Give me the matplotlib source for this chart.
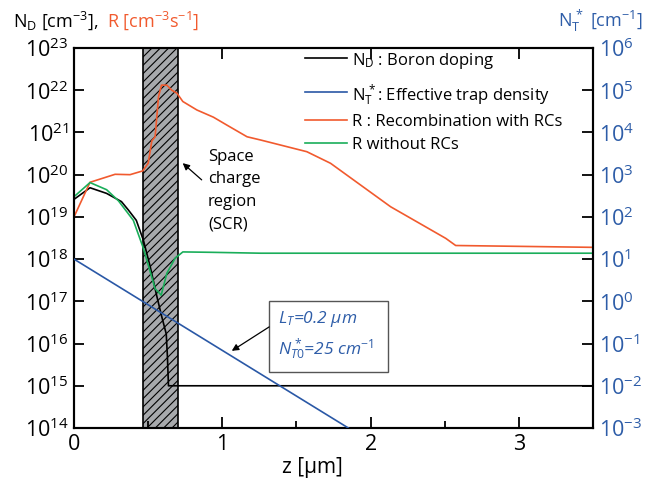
import matplotlib
matplotlib.use("Agg")
import matplotlib.pyplot as plt
from matplotlib.ticker import LogLocator, NullLocator, MultipleLocator, FixedLocator
from matplotlib.lines import Line2D

plt.rcParams['font.family'] = ['Open Sans', 'DejaVu Sans']
plt.rcParams['mathtext.fontset'] = 'custom'
plt.rcParams['mathtext.rm'] = 'Open Sans'
plt.rcParams['mathtext.it'] = 'Open Sans:italic'
plt.rcParams['mathtext.bf'] = 'Open Sans:bold'
plt.rcParams['hatch.linewidth'] = 0.8

# ---------------- data ----------------
# Boron doping N_D [cm^-3]
z_nd = [0.0, 0.108, 0.22, 0.32, 0.367, 0.42, 0.468, 0.514, 0.559, 0.592, 0.622, 0.630, 0.637, 3.5]
nd = [2.6e19, 4.9e19, 3.6e19, 2.3e19, 1.45e19, 8.3e18, 2.8e18, 6.6e17, 1.3e17, 4.3e16,
      1.7e16, 4.9e15, 1.0e15, 1.0e15]

# Recombination without RCs [cm^-3 s^-1]
z_g = [0.0, 0.108, 0.22, 0.30, 0.40, 0.468, 0.547, 0.588, 0.626, 0.682, 0.734, 0.92, 1.26, 3.5]
r_norc = [3.0e19, 6.5e19, 4.4e19, 2.4e19, 8.3e18, 1.8e18, 2.0e17, 1.4e17, 4.6e17, 1.05e18,
          1.48e18, 1.45e18, 1.38e18, 1.38e18]

# Recombination with RCs [cm^-3 s^-1]
z_r = [0.0, 0.108, 0.277, 0.378, 0.464, 0.50, 0.525, 0.547, 0.57, 0.59, 0.626, 0.66, 0.694,
       0.734, 0.829, 0.94, 1.03, 1.167, 1.26, 1.57, 1.73, 2.135, 2.507, 2.574, 3.5]
r_rc = [1.0e19, 6.6e19, 1.02e20, 1.0e20, 1.23e20, 1.86e20, 6.3e20, 7.9e20, 7.1e21, 1.32e22,
        1.32e22, 1.0e22, 8.5e21, 5.4e21, 3.4e21, 2.3e21, 1.5e21, 7.9e20, 6.6e20, 3.5e20,
        1.86e20, 1.74e19, 3.1e18, 2.1e18, 1.9e18]

# Effective trap density N_T* [cm^-1]
z_nt = [0.0, 1.85]
nt = [10.0, 1.0e-3]

# Space charge region
scr = [0.468, 0.698]

x_ticks = [0, 1, 2, 3]

legend_labels = [r'N$_\mathrm{D}$ : Boron doping',
                 r'N$_\mathrm{T}^{\,*}$: Effective trap density',
                 'R : Recombination with RCs',
                 'R without RCs']

# ---------------- style ----------------
c_orange = '#f15a2e'
c_green = '#1aae5a'
c_blue = '#2a58a6'
c_blue_txt = '#2e5da8'

fig = plt.figure(figsize=(6.61, 4.84), dpi=100)
ax = fig.add_axes([74/661, 1-428/484, (593-74)/661, (428-48)/484])
ax2 = ax.twinx()

ax.axvspan(scr[0], scr[1], facecolor='#a7a9ac', edgecolor='black', hatch='////', lw=1.2, zorder=1)

l_nd, = ax.plot(z_nd, nd, color='black', lw=1.2, zorder=3)
l_r, = ax.plot(z_r, r_rc, color=c_orange, lw=1.2, zorder=3)
l_g, = ax.plot(z_g, r_norc, color=c_green, lw=1.2, zorder=3)
l_nt, = ax2.plot(z_nt, nt, color=c_blue, lw=1.2, zorder=3)

ax.set_yscale('log')
ax2.set_yscale('log')
ax.set_ylim(1e14, 1e23)
ax2.set_ylim(1e-3, 1e6)
ax.set_xlim(0, 3.5)

ax.yaxis.set_major_locator(LogLocator(base=10, numticks=20))
ax.yaxis.set_minor_locator(NullLocator())
ax2.yaxis.set_major_locator(LogLocator(base=10, numticks=20))
ax2.yaxis.set_minor_locator(NullLocator())
ax.xaxis.set_major_locator(FixedLocator(x_ticks))
ax.xaxis.set_minor_locator(MultipleLocator(0.5))

for sp in ax.spines.values():
    sp.set_linewidth(1.5)
for sp in ax2.spines.values():
    sp.set_linewidth(1.5)

ax.tick_params(axis='y', which='major', direction='in', length=7, width=1.3,
               labelsize=15.5, pad=4)
ax.tick_params(axis='x', which='major', direction='in', length=8, width=1.3,
               labelsize=15.5, top=True, pad=4)
ax.tick_params(axis='x', which='minor', direction='in', length=5, width=1.3,
               top=False)
ax2.tick_params(axis='y', which='major', direction='in', length=8, width=1.3,
                labelsize=15.5, labelcolor=c_blue_txt, pad=4)

# axis labels
ax.set_xlabel('z [µm]', fontsize=15)
ax.xaxis.set_label_coords(0.46, -0.105)
ax.xaxis.label.set_va('center')

fig.text(13/661, 1-21/484, r'N$_\mathrm{D}$ [cm$^{\mathrm{-3}}$],', fontsize=13,
         color='black', ha='left', va='center')
fig.text(107/661, 1-21/484, r'R [cm$^{\mathrm{-3}}$s$^{\mathrm{-1}}$]', fontsize=13,
         color=c_orange, ha='left', va='center')
fig.text(558/661, 1-21/484, r'N$_\mathrm{T}^{\,*}$ [cm$^{\mathrm{-1}}$]', fontsize=13,
         color=c_blue_txt, ha='left', va='center')

# legend (placed row by row)
leg_lines = [l_nd, l_nt, l_r, l_g]
leg_rows = [0.974, 0.884, 0.811, 0.750]
for ln, lab, yy in zip(leg_lines, legend_labels, leg_rows):
    ax.add_line(Line2D([0.445, 0.526], [yy, yy], transform=ax.transAxes,
                       color=ln.get_color(), lw=1.2, zorder=6))
    ax.text(0.536, yy, lab, transform=ax.transAxes, fontsize=12, ha='left',
            va='center_baseline', zorder=6)

# SCR annotation
ax.text(0.258, 0.625, 'Space\ncharge\nregion\n(SCR)', transform=ax.transAxes,
        fontsize=12, ha='left', va='center', linespacing=1.55)
ax.annotate('', xy=(0.2094, 0.697), xytext=(0.246, 0.653),
            xycoords='axes fraction', textcoords='axes fraction',
            arrowprops=dict(arrowstyle='-|>', color='black', lw=0.9,
                            mutation_scale=10, shrinkA=0, shrinkB=0))

# parameter box
box = plt.Rectangle((0.376, 0.147), 0.229, 0.187, transform=ax.transAxes,
                    facecolor='white', edgecolor='#555555', lw=1.0, zorder=4)
ax.add_patch(box)
ax.text(0.393, 0.287, r'L$_{\mathit{T}}$=0.2 µm', transform=ax.transAxes,
        fontsize=12.5, style='italic', color=c_blue_txt, ha='left', va='center', zorder=5)
ax.text(0.393, 0.205, r'N$_{\mathit{T0}}^{\,*}$=25 cm$^{\mathit{-1}}$', transform=ax.transAxes,
        fontsize=12.5, style='italic', color=c_blue_txt, ha='left', va='center', zorder=5)
ax.annotate('', xy=(0.304, 0.203), xytext=(0.376, 0.266),
            xycoords='axes fraction', textcoords='axes fraction',
            arrowprops=dict(arrowstyle='-|>', color='black', lw=0.9,
                            mutation_scale=10, shrinkA=0, shrinkB=0), zorder=5)

fig.savefig('out.png', dpi=100)
